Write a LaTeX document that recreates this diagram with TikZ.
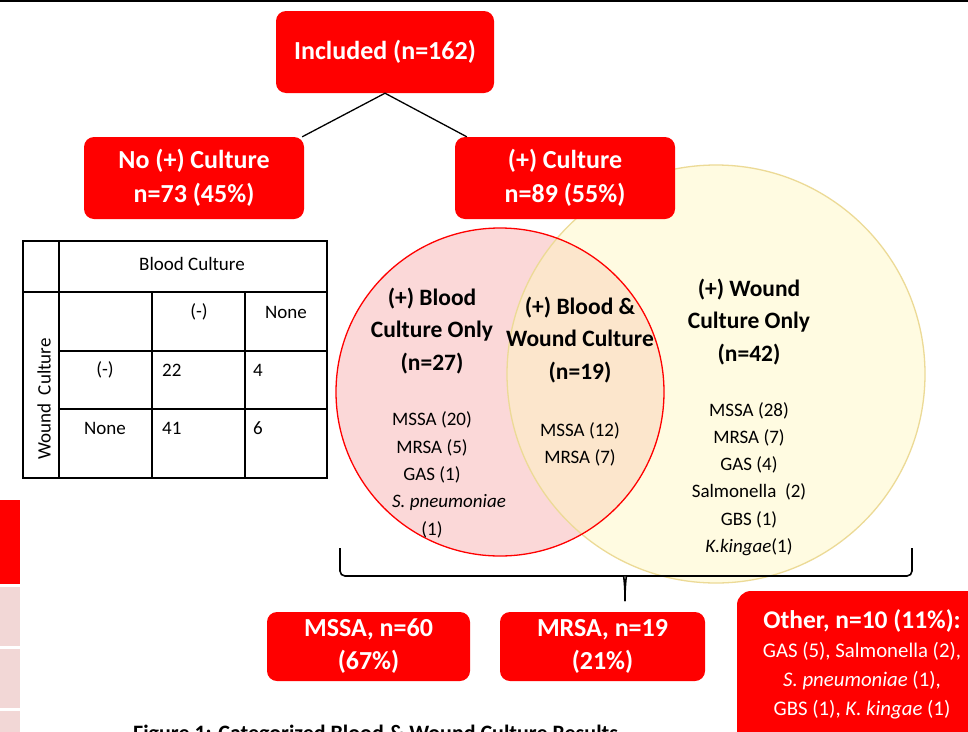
\documentclass[tikz,border=0pt]{standalone}
\usepackage{fontspec}
\setmainfont{Carlito}
\definecolor{boxred}{RGB}{255,0,0}
\definecolor{pinkfill}{RGB}{251,216,216}
\definecolor{yelfill}{RGB}{255,248,190}
\definecolor{yelborder}{RGB}{236,218,150}
\definecolor{edgepink}{RGB}{242,215,214}
\begin{document}
\begin{tikzpicture}[x=1pt,y=-1pt,
  redbox/.style={fill=boxred, rounded corners=10pt, text=white, align=center, inner sep=0pt,
    font=\bfseries\fontsize{26}{33}\selectfont},
  bigtitle/.style={font=\bfseries\fontsize{23.5}{32.5}\selectfont, align=center, inner sep=0pt},
  listtxt/.style={font=\fontsize{19}{27.3}\selectfont, align=center, inner sep=0pt},
  tbltxt/.style={font=\fontsize{19}{22}\selectfont, inner sep=0pt},
  tblline/.style={line width=1.4pt, black},
  conn/.style={line width=1.3pt, black}]
\clip (0,0) rectangle (968,731);
\fill[white] (0,0) rectangle (968,731);
\draw[line width=1.6pt] (0,0.8) -- (968,0.8);

% left edge blocks
\fill[boxred] (0,500) rectangle (20,584);
\fill[edgepink] (0,587) rectangle (20,646);
\fill[edgepink] (0,649) rectangle (20,708);
\fill[edgepink] (0,711) rectangle (20,740);

% Venn circles
\fill[pinkfill] (500,392) circle (164pt);
\fill[yelfill, opacity=0.45] (716,374) circle (209pt);
\draw[yelborder, line width=1.3pt] (716,374) circle (209pt);
\draw[boxred, line width=1.3pt] (500,392) circle (164pt);

% top boxes
\node[redbox, minimum width=218pt, minimum height=82pt] (inc) at (385,52)
  {Included (n=162)};
\node[redbox, minimum width=220pt, minimum height=82pt, font=\bfseries\fontsize{26}{34}\selectfont] (neg) at (194,178)
  {No (+) Culture\\n=73 (45\%)};
\node[redbox, minimum width=220pt, minimum height=82pt, font=\bfseries\fontsize{26}{34}\selectfont] (pos) at (565,178)
  {(+) Culture\\n=89 (55\%)};
\draw[conn] (inc.south) -- ([xshift=-2pt]neg.north east);
\draw[conn] (inc.south) -- ([xshift=12pt]pos.north west);

% table
\draw[tblline] (23,241) rectangle (327,478);
\draw[tblline] (59,241) -- (59,478);
\draw[tblline] (23,292) -- (327,292);
\draw[tblline] (59,351) -- (327,351);
\draw[tblline] (59,409) -- (327,409);
\draw[tblline] (152,292) -- (152,478);
\draw[tblline] (245,292) -- (245,478);
\node[tbltxt] (tbc) at (192,264) {Blood Culture};
\node[tbltxt] (tm1) at (199,312) {(-)};
\node[tbltxt] (tn1) at (286,312) {None};
\node[tbltxt] (tm2) at (105,370) {(-)};
\node[tbltxt, anchor=west] (t22) at (162,370) {22};
\node[tbltxt, anchor=west] (t4) at (253,370) {4};
\node[tbltxt] (tn2) at (105,428) {None};
\node[tbltxt, anchor=west] (t41) at (162,428) {41};
\node[tbltxt, anchor=west] (t6) at (253,428) {6};
\node[tbltxt, rotate=90] (twc) at (44,399) {Wound~~Culture};

% circle labels
\node[bigtitle] (bl) at (432,331) {(+) Blood\\Culture Only\\(n=27)};
\node[bigtitle] (bw) at (580,340) {(+) Blood \&\\Wound Culture\\(n=19)};
\node[bigtitle] (wd) at (749,322) {(+) Wound\\Culture Only\\(n=42)};
\node[listtxt] (bll) at (432,447.5) {MSSA (20)\\MRSA (5)\\GAS (1)};
\node[listtxt] (blsp) at (449,502) {\itshape S. pneumoniae};
\node[listtxt] (blone) at (432,530) {(1)};
\node[listtxt] (bwl) at (580,444.5) {MSSA (12)\\MRSA (7)};
\node[listtxt] (wdl) at (749,479) {MSSA (28)\\MRSA (7)\\GAS (4)\\Salmonella~ (2)\\GBS (1)\\\textit{K.kingae}(1)};

% brace
\coordinate (brL) at (340,548);
\coordinate (brR) at (912,548);
\coordinate (brS) at (625,601);
\draw[line width=1.6pt, rounded corners=5pt] (brL) -- (340,576) -- (619,576) .. controls (623,576) and (625,579) .. (brS);
\draw[line width=1.6pt, rounded corners=5pt] (brR) -- (912,576) -- (631,576) .. controls (627,576) and (625,579) .. (brS);

% bottom boxes
\node[redbox, minimum width=203pt, minimum height=69pt] (mssa) at (368.5,646.5) {MSSA, n=60\\(67\%)};
\node[redbox, minimum width=205pt, minimum height=69pt] (mrsa) at (602.5,646.5) {MRSA, n=19\\(21\%)};
\fill[boxred, rounded corners=14pt] (737,591) rectangle (1010,780);
\node[text=white, font=\bfseries\fontsize{25.5}{28}\selectfont, inner sep=0pt] (oth) at (862,621) {Other, n=10 (11\%):};
\node[text=white, font=\fontsize{20.8}{29}\selectfont, align=center, inner sep=0pt] (othl) at (862,681)
  {GAS (5), Salmonella (2),\\\textit{S. pneumoniae} (1),\\GBS (1), \textit{K. kingae} (1)};

% caption (cut off at bottom)
\node[anchor=base west, font=\bfseries\fontsize{22}{26}\selectfont, inner sep=0pt] (cap) at (133,740)
  {Figure 1: Categorized Blood \& Wound Culture Results};
\end{tikzpicture}
\end{document}
